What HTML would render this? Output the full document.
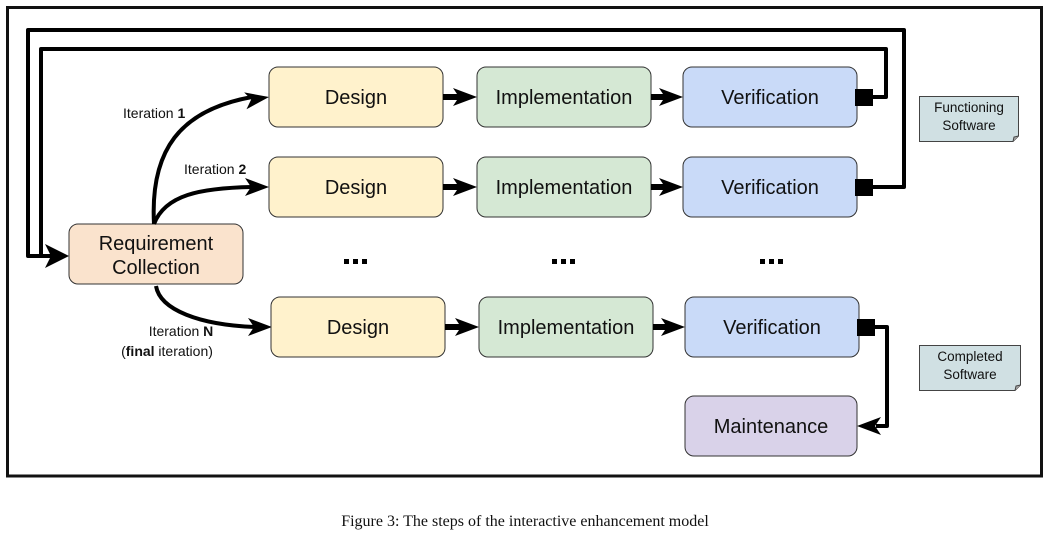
<!DOCTYPE html>
<html><head><meta charset="utf-8"><style>
html,body{margin:0;padding:0;background:#fff;width:1050px;height:533px;overflow:hidden}
svg{display:block}
text{font-family:"Liberation Sans",Arial,sans-serif}
</style></head><body>
<svg width="1050" height="533" viewBox="0 0 1050 533" xmlns="http://www.w3.org/2000/svg">
<rect x="7.5" y="7.5" width="1034" height="468.5" fill="none" stroke="#111" stroke-width="3"/>

<polyline points="872,187 904,187 904,30 28,30 28,256 52,256" fill="none" stroke="#000" stroke-width="4" stroke-linejoin="round"/>
<polyline points="872,97 886,97 886,49 41,49 41,256 52,256" fill="none" stroke="#000" stroke-width="4" stroke-linejoin="round"/>
<path d="M69,256 L45,244 L51,256 L45,268 Z" fill="#000"/>

<rect x="69" y="224" width="174" height="60" rx="9" fill="#fae3cd" stroke="#333" stroke-width="1"/>
<text x="156" y="250" font-size="20" text-anchor="middle" fill="#111">Requirement</text>
<text x="156" y="274" font-size="20" text-anchor="middle" fill="#111">Collection</text>

<path d="M154,224 C150,150 180,110 252,97" fill="none" stroke="#000" stroke-width="4"/>
<path d="M269,97 L245,89 L251,97 L245,106 Z" fill="#000" transform="rotate(-8 269 97)"/>
<path d="M154,224 C165,195 200,188 252,187" fill="none" stroke="#000" stroke-width="4"/>
<path d="M269,187 L245,178 L251,187 L245,196 Z" fill="#000"/>
<path d="M156,286 C160,310 200,325 255,327" fill="none" stroke="#000" stroke-width="4"/>
<path d="M272,327 L248,318 L254,327 L248,336 Z" fill="#000"/>

<text x="123" y="118" font-size="14" fill="#111">Iteration <tspan font-weight="bold">1</tspan></text>
<text x="184" y="174" font-size="14" fill="#111">Iteration <tspan font-weight="bold">2</tspan></text>
<text x="181" y="336" font-size="14" fill="#111" text-anchor="middle">Iteration <tspan font-weight="bold">N</tspan></text>
<text x="167" y="356" font-size="14" fill="#111" text-anchor="middle">(<tspan font-weight="bold">final</tspan> iteration)</text>

<g id="r1">
<rect x="269" y="67" width="174" height="60" rx="9" fill="#fff2cc" stroke="#333"/>
<text x="356" y="104" font-size="20" text-anchor="middle" fill="#111">Design</text>
<line x1="443" y1="97" x2="462" y2="97" stroke="#000" stroke-width="6"/>
<path d="M477,97 L453,88 L459,97 L453,106 Z" fill="#000"/>
<rect x="477" y="67" width="174" height="60" rx="9" fill="#d5e8d4" stroke="#333"/>
<text x="564" y="104" font-size="20" text-anchor="middle" fill="#111">Implementation</text>
<line x1="651" y1="97" x2="668" y2="97" stroke="#000" stroke-width="6"/>
<path d="M683,97 L659,88 L665,97 L659,106 Z" fill="#000"/>
<rect x="683" y="67" width="174" height="60" rx="9" fill="#c9daf8" stroke="#333"/>
<text x="770" y="104" font-size="20" text-anchor="middle" fill="#111">Verification</text>
<rect x="855" y="89" width="18" height="17" fill="#000"/>
</g>
<use href="#r1" transform="translate(0,90)"/>
<use href="#r1" transform="translate(2,230)"/>

<g fill="#000">
<rect x="344" y="259" width="5" height="5"/><rect x="353" y="259" width="5" height="5"/><rect x="362" y="259" width="5" height="5"/>
<rect x="552" y="259" width="5" height="5"/><rect x="561" y="259" width="5" height="5"/><rect x="570" y="259" width="5" height="5"/>
<rect x="760" y="259" width="5" height="5"/><rect x="769" y="259" width="5" height="5"/><rect x="778" y="259" width="5" height="5"/>
</g>

<polyline points="874,327 887,327 887,426 876,426" fill="none" stroke="#000" stroke-width="4" stroke-linejoin="round"/>
<path d="M857,426 L881,417 L875,426 L881,435 Z" fill="#000"/>
<rect x="685" y="396" width="172" height="60" rx="9" fill="#d9d2e9" stroke="#333"/>
<text x="771" y="433" font-size="20" text-anchor="middle" fill="#111">Maintenance</text>

<path d="M919.5,96.5 H1018.5 V136 L1013,141.5 H919.5 Z" fill="#d0e0e3" stroke="#444"/>
<path d="M1013,141.5 L1014,137 L1018.5,136" fill="#aaa" stroke="#444"/>
<text x="969" y="112" font-size="13.5" text-anchor="middle" fill="#111">Functioning</text>
<text x="969" y="130" font-size="13.5" text-anchor="middle" fill="#111">Software</text>
<path d="M919.5,345.5 H1020.5 V385 L1015,390.5 H919.5 Z" fill="#d0e0e3" stroke="#444"/>
<path d="M1015,390.5 L1016,386 L1020.5,385" fill="#aaa" stroke="#444"/>
<text x="970" y="361" font-size="13.5" text-anchor="middle" fill="#111">Completed</text>
<text x="970" y="379" font-size="13.5" text-anchor="middle" fill="#111">Software</text>

<text x="525" y="526" font-size="16" text-anchor="middle" fill="#111" style="font-family:'Liberation Serif',serif">Figure 3: The steps of the interactive enhancement model</text>
</svg>
</body></html>
